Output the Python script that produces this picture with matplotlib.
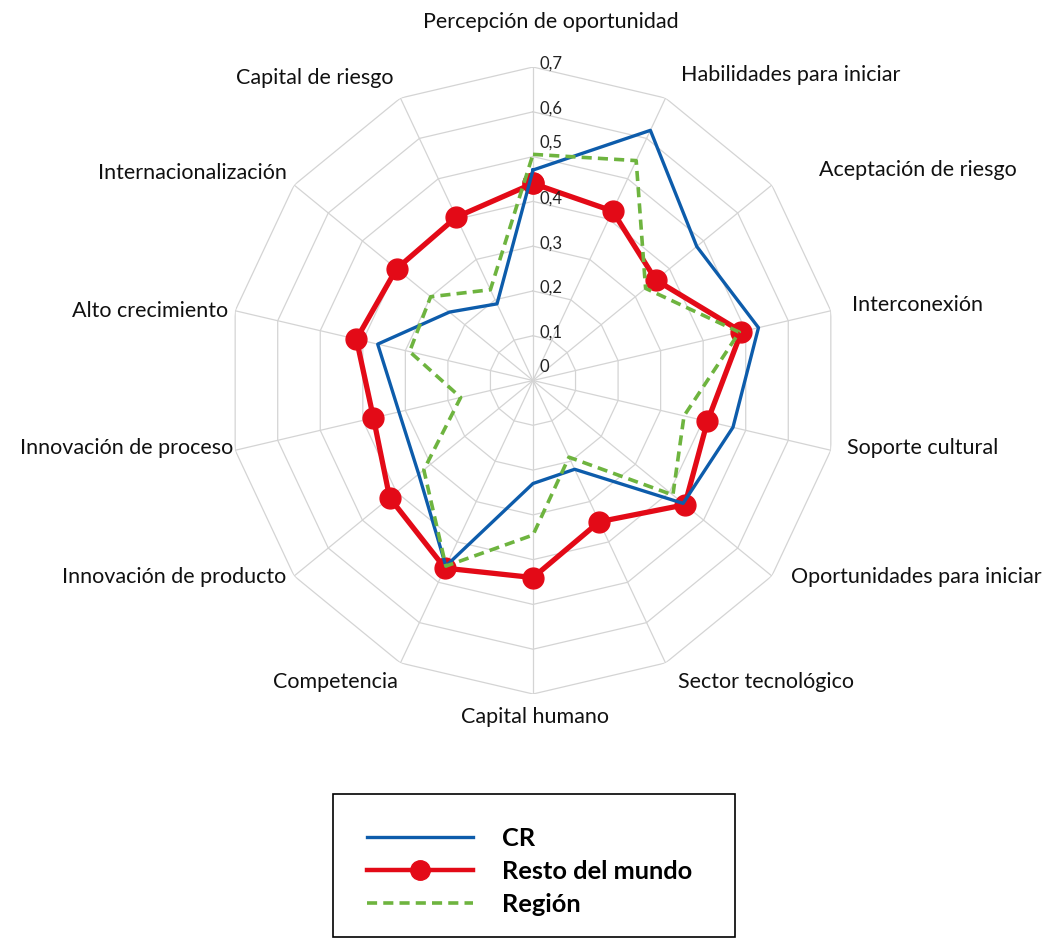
import numpy as np
import matplotlib
matplotlib.use("Agg")
import matplotlib.pyplot as plt
from matplotlib.patches import Rectangle
from matplotlib.lines import Line2D

plt.rcParams['font.family'] = ['Lato', 'DejaVu Sans']

# categories, clockwise from the top
categories = [
    "Percepción de oportunidad", "Habilidades para iniciar", "Aceptación de riesgo",
    "Interconexión", "Soporte cultural", "Oportunidades para iniciar",
    "Sector tecnológico", "Capital humano", "Competencia",
    "Innovación de producto", "Innovación de proceso", "Alto crecimiento",
    "Internacionalización", "Capital de riesgo",
]
cr = [0.47, 0.62, 0.48, 0.53, 0.47, 0.44, 0.22, 0.23, 0.46, 0.335, 0.315, 0.365, 0.245, 0.19]
resto = [0.44, 0.42, 0.36, 0.49, 0.41, 0.445, 0.35, 0.44, 0.465, 0.42, 0.375, 0.415, 0.40, 0.405]
region = [0.505, 0.545, 0.33, 0.485, 0.355, 0.41, 0.19, 0.345, 0.46, 0.32, 0.17, 0.29, 0.30, 0.225]
ticks = [0, 0.1, 0.2, 0.3, 0.4, 0.5, 0.6, 0.7]
tick_labels = ["0", "0,1", "0,2", "0,3", "0,4", "0,5", "0,6", "0,7"]
series_names = ["CR", "Resto del mundo", "Región"]

# label offsets (pixels from the outer vertex), x right / y down
label_pos = [
    (18, -45, 'center'), (15, -23, 'left'), (47, -15, 'left'), (21, -6, 'left'),
    (16, -2, 'left'), (19, 1, 'left'), (12, 19, 'left'), (2, 23, 'center'),
    (-3, 19, 'right'), (-8, 1, 'right'), (-2, -2, 'right'), (-7, 0, 'right'),
    (-7, -12, 'right'), (-7, -20, 'right'),
]

n = len(categories)
angles = np.arange(n) * 2 * np.pi / n
ang_c = np.append(angles, angles[0])

def closed(v):
    return np.append(v, v[0])

fig = plt.figure(figsize=(10.46, 9.4), dpi=100)
ax = fig.add_axes([0.2175, 0.2617, 0.5841, 0.667], projection='polar')
ax.set_aspect('auto')
ax.set_theta_zero_location('N')
ax.set_theta_direction(-1)
ax.set_ylim(0, 0.7)
ax.grid(False)
ax.spines['polar'].set_visible(False)
ax.set_xticks([])
ax.set_yticks([])

grid_col = '#d4d4d4'
for v in ticks[1:]:
    ax.plot(ang_c, [v] * (n + 1), color=grid_col, lw=0.9, zorder=1)
for a in angles:
    ax.plot([a, a], [0, 0.7], color=grid_col, lw=0.9, zorder=1)

ax.plot(ang_c, closed(resto), color='#e30a17', lw=3.8, marker='o', ms=15, zorder=3)
ax.plot(ang_c, closed(cr), color='#0d5cab', lw=2.4, zorder=4)
ax.plot(ang_c, closed(region), color='#6eb43f', lw=2.6, dashes=(2.8, 1.7), zorder=5)

for v, t in zip(ticks, tick_labels):
    up = 14 if t in ("0", "0,5") else 3
    ax.annotate(t, xy=(0, v), xytext=(7, up), textcoords='offset pixels',
                ha='left', va='center', fontsize=12, color='#222222')

for a, cat, (dx, dy, ha) in zip(angles, categories, label_pos):
    ax.annotate(cat, xy=(a, 0.7), xytext=(dx, -dy), textcoords='offset pixels',
                ha=ha, va='center', fontsize=15.5, color='#111111', annotation_clip=False)

handles = [
    Line2D([], [], color='#0d5cab', lw=2.4),
    Line2D([], [], color='#e30a17', lw=3.2, marker='o', ms=14),
    Line2D([], [], color='#6eb43f', lw=2.6, dashes=(2.8, 1.7)),
]
fig.legend(handles, series_names, loc='upper left', bbox_to_anchor=(0.3506, 0.12),
           frameon=False, prop={'family': 'Lato', 'weight': 'bold', 'size': 18.3},
           handlelength=4.2, handletextpad=1.14, labelspacing=0.39, borderpad=0,
           borderaxespad=0)
fig.patches.append(Rectangle((0.3184, 0.0032), 0.3843, 0.152, transform=fig.transFigure,
                             fill=False, edgecolor='black', lw=1.2))

fig.savefig('out.png', dpi=100, facecolor='white')
